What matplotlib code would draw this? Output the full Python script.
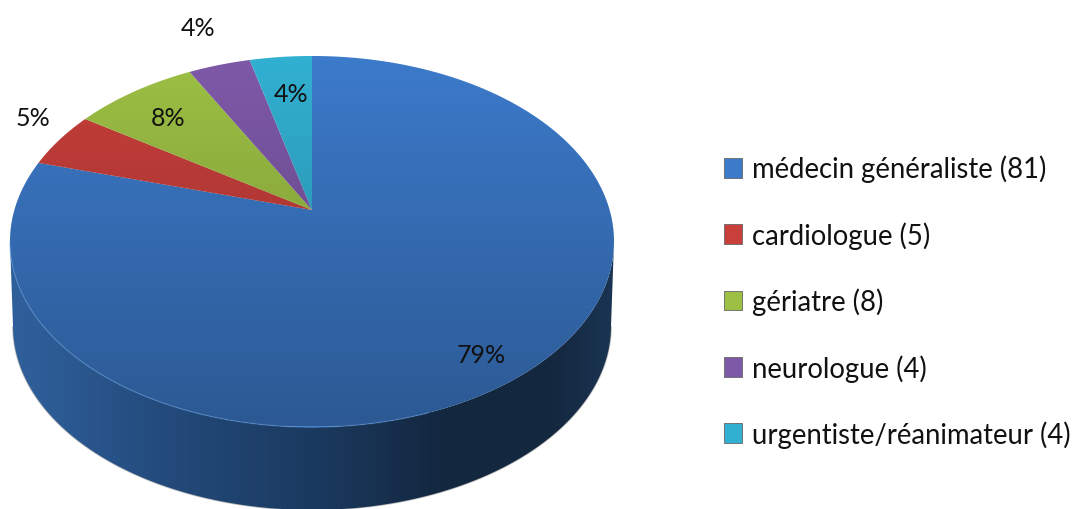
import numpy as np
import matplotlib
matplotlib.use('Agg')
import matplotlib.pyplot as plt
from matplotlib.path import Path
from matplotlib.patches import Polygon
from matplotlib.transforms import Transform, Affine2D
from matplotlib.colors import LinearSegmentedColormap

names = ['médecin généraliste', 'cardiologue', 'gériatre', 'neurologue', 'urgentiste/réanimateur']
counts = [81, 5, 8, 4, 4]
colors = ['#3c7aca', '#c83f3b', '#9dc044', '#7e59a8', '#32b0d2']

plt.rcParams['font.family'] = ['Lato', 'DejaVu Sans']

# pie is seen in perspective, apex sits above the middle of the ellipse
cx, cy = 312, 211
a, b, k = 297.6, 180.2, 0.17
depth = 85


class Perspective(Transform):
    input_dims = 2
    output_dims = 2
    has_inverse = False

    def __init__(self, shift=0, scale=1.0):
        super().__init__()
        self.shift = shift
        self.scale = scale

    def transform_non_affine(self, pts):
        pts = np.asarray(pts)
        d = 1 + k * pts[:, 1]
        x = cx + self.scale * a * pts[:, 0] / d
        y = cy + self.shift - self.scale * b * pts[:, 1] / d
        return np.column_stack([x, y])

    def transform_path_non_affine(self, path):
        # flatten the bezier arcs first, control points don't survive this map
        polys = path.transformed(Affine2D().scale(2000)).to_polygons(closed_only=False)
        return Path(self.transform_non_affine(polys[0] / 2000))


fig = plt.figure(figsize=(10.74, 5.10), dpi=100)
ax = fig.add_axes([0, 0, 1, 1])

wedges, _ = ax.pie(counts, colors=colors, startangle=90, counterclock=False,
                   wedgeprops={'linewidth': 0, 'zorder': 3})
top = Perspective()
for w in wedges:
    w.set_transform(top + ax.transData)

# side wall
th = np.linspace(0, 2 * np.pi, 721)
circle = np.column_stack([np.cos(th), np.sin(th)])
lower = circle[circle[:, 1] <= -k]
lower = lower[np.argsort(-lower[:, 0])]
edge_top = top.transform_non_affine(lower)
edge_bot = Perspective(depth, 0.99).transform_non_affine(lower)
wall_pts = np.vstack([edge_top, edge_bot[::-1]])

wall_cmap = LinearSegmentedColormap.from_list('wall', [
    (0.0, '#30609c'), (0.08, '#2c5a93'), (0.25, '#234b7c'), (0.5, '#1b3a60'),
    (0.72, '#13273f'), (0.9, '#14283f'), (1.0, '#1a3452')])
wall = ax.imshow(np.linspace(0, 1, 256)[None, :], cmap=wall_cmap, extent=(10, 614, 510, 200),
                 aspect='auto', zorder=2)
wall_clip = Polygon(wall_pts, closed=True, transform=ax.transData, fc='none', ec='none')
ax.add_patch(wall_clip)
wall.set_clip_path(wall_clip)
ax.plot(edge_bot[:, 0], edge_bot[:, 1], color='#777777', lw=1.2, alpha=0.5, zorder=1)

# shading of the top face, darker towards the front
disc = top.transform_non_affine(circle)
disc_clip = Polygon(disc, closed=True, transform=ax.transData, fc='none', ec='none')
ax.add_patch(disc_clip)
shade = np.zeros((256, 1, 4))
shade[:, 0, 3] = np.linspace(0, 0.27, 256)
sh = ax.imshow(shade, extent=(0, 640, 427, 56), aspect='auto', zorder=4)
sh.set_clip_path(disc_clip)

# thin highlight on the front rim, only on the lit side
lit = edge_top[:, 0] < 430
ax.plot(edge_top[lit, 0], edge_top[lit, 1], color='#5a93d6', lw=1.0, alpha=0.45, zorder=5)

# percent labels
total = sum(counts)
label_pos = [(481, 356), (33, 118), (168, 118), (198, 28), (291, 95)]
for c, (px, py) in zip(counts, label_pos):
    ax.text(px, py, '%d%%' % round(100 * c / total), ha='center', va='center',
            fontsize=18, color='#111111', zorder=6)

ax.set_aspect('auto')
ax.set_xlim(0, 1074)
ax.set_ylim(510, 0)
ax.axis('off')

leg = ax.legend(wedges, ['%s (%d)' % (n, c) for n, c in zip(names, counts)],
                loc='upper left', bbox_to_anchor=(699 / 1074, 1 - 131 / 510),
                frameon=False, fontsize=19.8, labelspacing=1.41,
                handlelength=0.65, handleheight=0.73, handletextpad=0.36, labelcolor='#111111')
for h in leg.legend_handles:
    h.set_edgecolor('#666666')
    h.set_linewidth(0.6)

fig.savefig('out.png', dpi=100)
